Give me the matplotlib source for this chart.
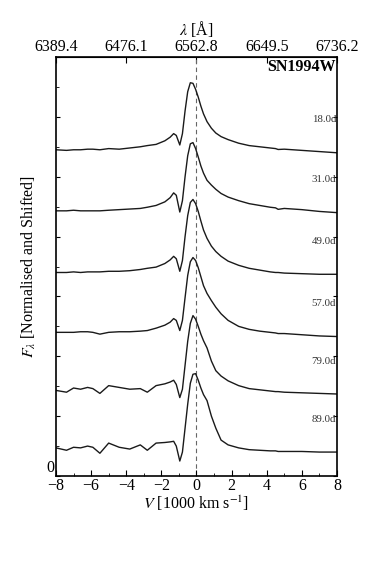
import matplotlib
matplotlib.use("Agg")
import matplotlib.pyplot as plt
from matplotlib.ticker import MultipleLocator, FixedLocator, FixedFormatter

plt.rcParams['font.family'] = ['Liberation Serif', 'DejaVu Serif']
plt.rcParams['mathtext.fontset'] = 'stix'

# ---- data ----
velocity = [-8.0, -7.4, -7.0, -6.6, -6.2, -5.9, -5.5, -5.0, -4.4, -3.8, -3.2, -2.8,
            -2.3, -1.8, -1.5, -1.3, -1.15, -0.95, -0.8, -0.65, -0.5, -0.35, -0.2,
            -0.05, 0.1, 0.25, 0.4, 0.6, 0.85, 1.1, 1.4, 1.8, 2.4, 3.0, 3.6, 4.2,
            4.5, 4.65, 5.0, 6.0, 7.0, 8.0]

epochs = ["18.0d", "31.0d", "49.0d", "57.0d", "79.0d", "89.0d"]

flux_18 = [5.45, 5.44, 5.45, 5.45, 5.46, 5.46, 5.45, 5.47, 5.46, 5.48, 5.50, 5.52,
           5.54, 5.60, 5.66, 5.72, 5.69, 5.53, 5.72, 6.10, 6.42, 6.57, 6.56,
           6.46, 6.33, 6.18, 6.05, 5.92, 5.81, 5.73, 5.67, 5.62, 5.56, 5.52, 5.50, 5.48,
           5.47, 5.455, 5.46, 5.44, 5.42, 5.40]
flux_31 = [4.43, 4.43, 4.44, 4.43, 4.43, 4.43, 4.43, 4.44, 4.45, 4.46, 4.47, 4.49,
           4.52, 4.58, 4.65, 4.73, 4.69, 4.41, 4.60, 5.00, 5.35, 5.55, 5.57,
           5.47, 5.33, 5.18, 5.06, 4.94, 4.86, 4.79, 4.72, 4.66, 4.60, 4.55, 4.52, 4.49,
           4.48, 4.455, 4.47, 4.45, 4.42, 4.40]
flux_49 = [3.40, 3.40, 3.41, 3.40, 3.41, 3.41, 3.41, 3.42, 3.42, 3.43, 3.45, 3.47,
           3.49, 3.55, 3.61, 3.67, 3.63, 3.42, 3.60, 4.00, 4.35, 4.57, 4.62,
           4.55, 4.42, 4.26, 4.11, 3.97, 3.84, 3.75, 3.67, 3.59, 3.52, 3.47, 3.44, 3.41,
           3.40, 3.40, 3.39, 3.38, 3.37, 3.37]
flux_57 = [2.40, 2.40, 2.40, 2.41, 2.41, 2.40, 2.37, 2.40, 2.41, 2.41, 2.42, 2.43,
           2.47, 2.52, 2.57, 2.63, 2.60, 2.43, 2.60, 2.98, 3.35, 3.58, 3.65,
           3.60, 3.48, 3.33, 3.18, 3.05, 2.93, 2.82, 2.71, 2.60, 2.50, 2.45, 2.42, 2.40,
           2.39, 2.38, 2.38, 2.36, 2.34, 2.33]
flux_79 = [1.43, 1.40, 1.47, 1.45, 1.48, 1.46, 1.38, 1.51, 1.48, 1.45, 1.46, 1.40,
           1.51, 1.54, 1.57, 1.60, 1.53, 1.31, 1.45, 1.85, 2.25, 2.55, 2.68,
           2.62, 2.50, 2.37, 2.26, 2.14, 1.92, 1.76, 1.67, 1.59, 1.51, 1.46, 1.44, 1.42,
           1.41, 1.41, 1.40, 1.39, 1.38, 1.37]
flux_89 = [0.47, 0.43, 0.48, 0.47, 0.50, 0.48, 0.38, 0.55, 0.48, 0.45, 0.52, 0.43,
           0.55, 0.56, 0.57, 0.58, 0.50, 0.25, 0.40, 0.80, 1.20, 1.55, 1.70,
           1.71, 1.60, 1.47, 1.36, 1.26, 1.00, 0.80, 0.60, 0.52, 0.47, 0.44, 0.43, 0.42,
           0.42, 0.41, 0.41, 0.41, 0.40, 0.40]
fluxes = [flux_18, flux_31, flux_49, flux_57, flux_79, flux_89]

x_major = [-8, -6, -4, -2, 0, 2, 4, 6, 8]
top_tick_v = [-8, -4, 0, 4, 8]
top_tick_labels = ["6389.4", "6476.1", "6562.8", "6649.5", "6736.2"]
y_tick_vals = [0]
y_tick_labels = ["0"]

FS = 11.5

# ---- figure ----
fig = plt.figure(figsize=(3.74, 5.61), dpi=100)
ax = fig.add_axes([0.1497, 0.1515, 0.7513, 0.7469])

ax.axvline(0, color='#666666', lw=0.8, ls=(0, (4, 3)), zorder=1)
for lab, fl in zip(epochs, fluxes):
    ax.plot(velocity, fl, color='#1a1a1a', lw=1.0, zorder=2)
    ax.text(7.95, fl[-1] + 0.55, lab, ha='right', va='center', fontsize=7.8,
            color='#333333')

ax.text(7.95, 6.84, "SN1994W", ha='right', va='center', fontsize=11.5,
        fontweight='bold')

ax.set_xlim(-8, 8)
ax.set_ylim(0, 7)
ax.xaxis.set_major_locator(FixedLocator(x_major))
ax.xaxis.set_minor_locator(MultipleLocator(1))
ax.yaxis.set_major_locator(MultipleLocator(1))
ax.yaxis.set_minor_locator(MultipleLocator(0.5))

def yfmt(val, pos):
    for tv, tl in zip(y_tick_vals, y_tick_labels):
        if abs(val - tv) < 1e-9:
            return tl
    return ""
ax.yaxis.set_major_formatter(plt.FuncFormatter(yfmt))

ax.tick_params(axis='both', which='both', direction='in', labelsize=FS)
ax.tick_params(axis='x', which='major', length=4, width=0.8, pad=1.5)
ax.tick_params(axis='x', which='minor', length=2, width=0.6)
ax.tick_params(axis='y', which='major', length=3, width=0.8, right=True, pad=1)
ax.tick_params(axis='y', which='minor', length=2, width=0.6)
for t in ax.yaxis.get_majorticklabels():
    t.set_verticalalignment('bottom')
for s in ax.spines.values():
    s.set_linewidth(1.2)

ax.set_xlabel(r"$V$ [1000 km s$^{-1}$]", fontsize=FS, labelpad=0)
ax.set_ylabel(r"$F_{\lambda}$ [Normalised and Shifted]", fontsize=FS, labelpad=6)

sec = ax.secondary_xaxis('top')
sec.xaxis.set_major_locator(FixedLocator(top_tick_v))
sec.xaxis.set_major_formatter(FixedFormatter(top_tick_labels))
sec.tick_params(direction='in', length=4, width=0.8, labelsize=FS, pad=1.5)
sec.set_xlabel(r"$\lambda$ [Å]", fontsize=FS, labelpad=3)

fig.savefig("out.png", dpi=100)
